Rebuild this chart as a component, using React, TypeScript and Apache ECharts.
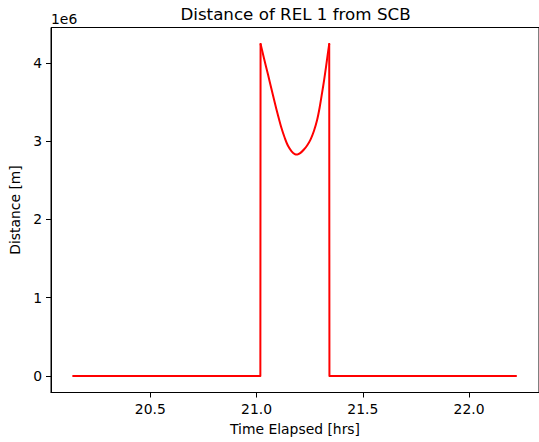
import React, { useEffect, useRef } from "react";
import * as echarts from "echarts";

const titleText = "Distance of REL 1 from SCB";
const xLabel = "Time Elapsed [hrs]";
const yLabel = "Distance [m]";
const offsetText = "1e6";

const xTicks = [20.5, 21.0, 21.5, 22.0];
const yTicks = [0, 1e6, 2e6, 3e6, 4e6];

// baseline segments (before the jump and after the drop)
const beforeTime = [20.137, 21.018, 21.019];
const beforeDist = [0, 0, 4.24e6];
const afterTime = [21.342, 21.343, 22.221];
const afterDist = [4.24e6, 0, 0];

// curved part between the two peaks
const curveTime = [
  21.019, 21.035, 21.054, 21.07, 21.086, 21.1, 21.117, 21.133, 21.148, 21.165,
  21.18, 21.192, 21.207, 21.222, 21.238, 21.254, 21.27, 21.285, 21.297, 21.308,
  21.318, 21.327, 21.335, 21.342,
];
const curveDist = [
  4.24e6, 4.06e6, 3.85e6, 3.67e6, 3.49e6, 3.34e6, 3.17e6, 3.04e6, 2.94e6, 2.87e6,
  2.835e6, 2.83e6, 2.85e6, 2.89e6, 2.945e6, 3.02e6, 3.13e6, 3.27e6, 3.43e6, 3.61e6,
  3.78e6, 3.95e6, 4.11e6, 4.24e6,
];

const FONT = "DejaVu Sans";
const RED = "#ff0000";

const pairs = (xs: number[], ys: number[]) => xs.map((x, i) => [x, ys[i]]);

export default function App() {
  const ref = useRef<HTMLDivElement>(null);
  useEffect(() => {
    if (!ref.current) return;
    const chart = echarts.init(ref.current, null, { renderer: "svg" });
    const lineSeries = (data: number[][], smooth: number | boolean) => ({
      type: "line",
      data,
      smooth,
      showSymbol: false,
      symbol: "none",
      lineStyle: { color: RED, width: 2, cap: "round", join: "round" },
      itemStyle: { color: RED },
    });
    chart.setOption({
      animation: false,
      backgroundColor: "#fff",
      textStyle: { fontFamily: FONT },
      grid: {
        left: 51,
        top: 27.5,
        width: 490,
        height: 365,
        show: true,
        borderColor: "#000",
        borderWidth: 1,
        backgroundColor: "transparent",
      },
      graphic: [
        {
          type: "text",
          x: 295.5,
          y: 14,
          style: {
            text: titleText,
            fontFamily: FONT,
            fontSize: 16.7,
            fill: "#000",
            textAlign: "center",
            textVerticalAlign: "middle",
          },
        },
        {
          type: "text",
          x: 51,
          y: 26,
          style: {
            text: offsetText,
            fontFamily: FONT,
            fontSize: 13.9,
            fill: "#000",
            textAlign: "left",
            textVerticalAlign: "bottom",
          },
        },
      ],
      xAxis: {
        type: "value",
        min: 20.033,
        max: 22.329,
        name: xLabel,
        nameLocation: "middle",
        nameGap: 29,
        nameTextStyle: { fontFamily: FONT, fontSize: 13.9, color: "#000" },
        axisLine: { show: true, onZero: false, lineStyle: { color: "#000", width: 1 } },
        axisTick: {
          show: true,
          length: 5,
          customValues: xTicks,
          lineStyle: { color: "#000", width: 1 },
        },
        axisLabel: {
          customValues: xTicks,
          margin: 9,
          fontFamily: FONT,
          fontSize: 13.9,
          color: "#000",
          formatter: (v: number) => v.toFixed(1),
        },
        splitLine: { show: false },
      },
      yAxis: {
        type: "value",
        min: -0.212e6,
        max: 4.452e6,
        name: yLabel,
        nameLocation: "middle",
        nameGap: 22,
        nameTextStyle: { fontFamily: FONT, fontSize: 13.9, color: "#000" },
        axisLine: { show: true, onZero: false, lineStyle: { color: "#000", width: 1 } },
        axisTick: {
          show: true,
          length: 5,
          customValues: yTicks,
          lineStyle: { color: "#000", width: 1 },
        },
        axisLabel: {
          customValues: yTicks,
          margin: 9,
          fontFamily: FONT,
          fontSize: 13.9,
          color: "#000",
          formatter: (v: number) => String(Math.round(v / 1e6)),
        },
        splitLine: { show: false },
      },
      series: [
        lineSeries(pairs(beforeTime, beforeDist), false),
        lineSeries(pairs(curveTime, curveDist), 0.3),
        lineSeries(pairs(afterTime, afterDist), false),
      ],
    });
    return () => chart.dispose();
  }, []);
  return (
    <div
      ref={ref}
      style={{ position: "absolute", left: 0, top: 0, width: 539, height: 442 }}
    />
  );
}
